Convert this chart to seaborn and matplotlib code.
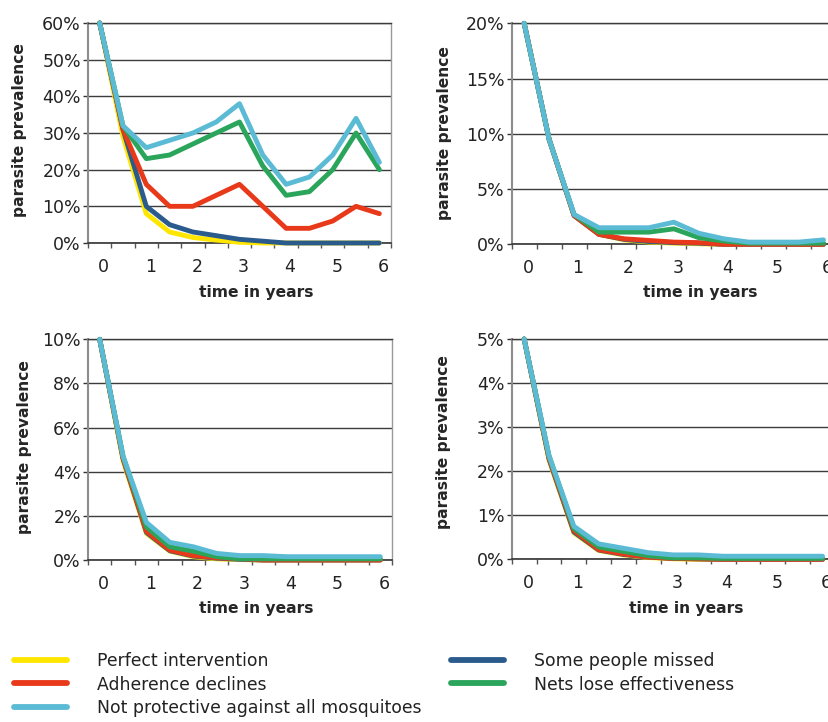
import matplotlib
matplotlib.use('Agg')
import numpy as np
import pandas as pd
import seaborn as sns
import matplotlib.pyplot as plt
from matplotlib.lines import Line2D
from matplotlib.transforms import ScaledTranslation

# time axis, half-year steps
time = [0, 0.5, 1, 1.5, 2, 2.5, 3, 3.5, 4, 4.5, 5, 5.5, 6]

scenarios = ["Perfect intervention", "Some people missed", "Adherence declines",
             "Nets lose effectiveness", "Not protective against all mosquitoes"]
colors = {"Perfect intervention": "#ffe600",
          "Some people missed": "#2b5b8c",
          "Adherence declines": "#e8391b",
          "Nets lose effectiveness": "#2aa55b",
          "Not protective against all mosquitoes": "#5bbbd5"}

# panel A: start 60%
perfect_a = [60, 29, 8, 3, 1.5, 0.8, 0.2, 0, 0, 0, 0, 0, 0]
missed_a = [60, 31, 10, 5, 3, 2, 1, 0.5, 0, 0, 0, 0, 0]
adherence_a = [60, 31, 16, 10, 10, 13, 16, 10, 4, 4, 6, 10, 8]
nets_a = [60, 32, 23, 24, 27, 30, 33, 21, 13, 14, 20, 30, 20]
notprot_a = [60, 32, 26, 28, 30, 33, 38, 24, 16, 18, 24, 34, 22]

# panel B: start 20%
perfect_b = [20, 9.5, 2.6, 0.9, 0.4, 0.2, 0.1, 0.05, 0, 0, 0, 0, 0]
missed_b = [20, 9.5, 2.6, 0.9, 0.45, 0.25, 0.15, 0.1, 0, 0, 0, 0, 0]
adherence_b = [20, 9.5, 2.6, 0.9, 0.5, 0.35, 0.2, 0.15, 0, 0, 0, 0, 0]
nets_b = [20, 9.5, 2.7, 1.1, 1.1, 1.1, 1.4, 0.6, 0.3, 0.1, 0.1, 0.1, 0.1]
notprot_b = [20, 9.5, 2.7, 1.5, 1.5, 1.5, 2.0, 1.0, 0.5, 0.2, 0.2, 0.2, 0.4]

# panel C: start 10%
perfect_c = [10, 4.5, 1.2, 0.4, 0.15, 0.05, 0.02, 0, 0, 0, 0, 0, 0]
missed_c = [10, 4.6, 1.25, 0.42, 0.18, 0.08, 0.03, 0, 0, 0, 0, 0, 0]
adherence_c = [10, 4.6, 1.3, 0.45, 0.2, 0.1, 0.05, 0, 0, 0, 0, 0, 0]
nets_c = [10, 4.7, 1.5, 0.6, 0.4, 0.15, 0.05, 0.05, 0.05, 0.05, 0.05, 0.05, 0.05]
notprot_c = [10, 4.7, 1.7, 0.8, 0.6, 0.3, 0.2, 0.2, 0.15, 0.15, 0.15, 0.15, 0.15]

# panel D: start 5%
perfect_d = [5, 2.25, 0.6, 0.2, 0.1, 0.04, 0.01, 0, 0, 0, 0, 0, 0]
missed_d = [5, 2.28, 0.62, 0.21, 0.11, 0.05, 0.02, 0.01, 0, 0, 0, 0, 0]
adherence_d = [5, 2.3, 0.65, 0.22, 0.12, 0.05, 0.02, 0.01, 0, 0, 0, 0, 0]
nets_d = [5, 2.35, 0.7, 0.28, 0.18, 0.08, 0.03, 0.03, 0.02, 0.02, 0.02, 0.02, 0.02]
notprot_d = [5, 2.35, 0.75, 0.35, 0.25, 0.15, 0.1, 0.1, 0.07, 0.07, 0.07, 0.07, 0.07]

panels = [
    ([perfect_a, missed_a, adherence_a, nets_a, notprot_a], 60, 10),
    ([perfect_b, missed_b, adherence_b, nets_b, notprot_b], 20, 5),
    ([perfect_c, missed_c, adherence_c, nets_c, notprot_c], 10, 2),
    ([perfect_d, missed_d, adherence_d, nets_d, notprot_d], 5, 1),
]

sns.set_style("white")
plt.rcParams['font.family'] = ['DejaVu Sans']
plt.rcParams['text.color'] = '#222222'

W, H = 829, 722
fig = plt.figure(figsize=(W / 100, H / 100), dpi=100)

# axes boxes in pixels: left, right, top, bottom
boxes = [(88, 391, 23, 243), (511.7, 836, 23.3, 244.3),
         (88, 392, 339.3, 560), (511.7, 835, 339, 559.3)]
xlabel_pos = [(256, 293), (700, 293), (256, 608), (686, 608)]
ylabel_pos = [(20, 130), (445, 133), (24, 447), (444, 442)]

for i, (series, ymax, ystep) in enumerate(panels):
    l, r, t, b = boxes[i]
    ax = fig.add_axes([l / W, 1 - b / H, (r - l) / W, (b - t) / H])
    df = pd.DataFrame({
        "time": time * len(scenarios),
        "value": sum(series, []),
        "scenario": [s for s in scenarios for _ in time],
    })
    sns.lineplot(data=df, x="time", y="value", hue="scenario", hue_order=scenarios,
                 palette=colors, lw=3.5, legend=False, ax=ax,
                 solid_joinstyle='round', solid_capstyle='round', clip_on=False, zorder=3)

    ax.set_xlim(-0.25, 6.25)
    ax.set_ylim(0, ymax)
    ax.set_xticks(range(7))
    ax.set_xticks(np.arange(-0.25, 6.26, 0.5), minor=True)
    yt = np.arange(0, ymax + 0.01, ystep)
    ax.set_yticks(yt)
    ax.set_yticklabels([f"{v:.0f}%" for v in yt])
    ax.tick_params(axis='x', which='major', length=0, pad=10.5, labelsize=12.5, labelcolor='#222222')
    ax.tick_params(axis='x', which='minor', length=3.6, width=1, color='#555555', direction='out')
    ax.tick_params(axis='y', length=3.6, width=1, color='#333333', direction='out', pad=1.5,
                   labelsize=12.5, labelcolor='#222222')
    ax.tick_params(left=True, bottom=True, which='both')
    # year labels sit a few pixels right of the data points
    shift = ScaledTranslation(4 / 100, 0, fig.dpi_scale_trans)
    for lab in ax.get_xticklabels():
        lab.set_transform(lab.get_transform() + shift)

    ax.yaxis.grid(True, color='#3c3c3c', lw=1)
    ax.xaxis.grid(False)
    ax.set_axisbelow(True)
    ax.spines['left'].set_color('#8c8c8c')
    ax.spines['left'].set_linewidth(1.5)
    ax.spines['bottom'].set_color('#333333')
    ax.spines['bottom'].set_linewidth(1.2)
    ax.spines['right'].set_color('#999999')
    ax.spines['right'].set_linewidth(1)
    ax.spines['top'].set_color('#3c3c3c')
    ax.spines['top'].set_linewidth(1)

    ax.set_xlabel("time in years", fontsize=11.2, fontweight='bold')
    ax.set_ylabel("parasite prevalence", fontsize=11.2, fontweight='bold')
    xl, yl = xlabel_pos[i]
    ax.xaxis.set_label_coords((xl - l) / (r - l), (b - yl) / (b - t))
    ax.xaxis.label.set_va('center')
    yx, yy = ylabel_pos[i]
    ax.yaxis.set_label_coords((yx - l) / (r - l), (b - yy) / (b - t))
    ax.yaxis.label.set_va('center')
    ax.yaxis.label.set_ha('center')

# legend, two columns
def handle(name):
    return Line2D([], [], color=colors[name], lw=4.2, solid_capstyle='round')

col1 = ["Perfect intervention", "Adherence declines", "Not protective against all mosquitoes"]
col2 = ["Some people missed", "Nets lose effectiveness"]
for names, x0 in [(col1, 14), (col2, 451)]:
    fig.legend([handle(n) for n in names], names, loc='upper left',
               bbox_to_anchor=(x0 / W, 1 - 652 / H), frameon=False,
               fontsize=12.4, handlelength=3.1, handletextpad=1.7,
               labelspacing=0.32, borderpad=0, borderaxespad=0)

fig.savefig("out.png", dpi=100)
